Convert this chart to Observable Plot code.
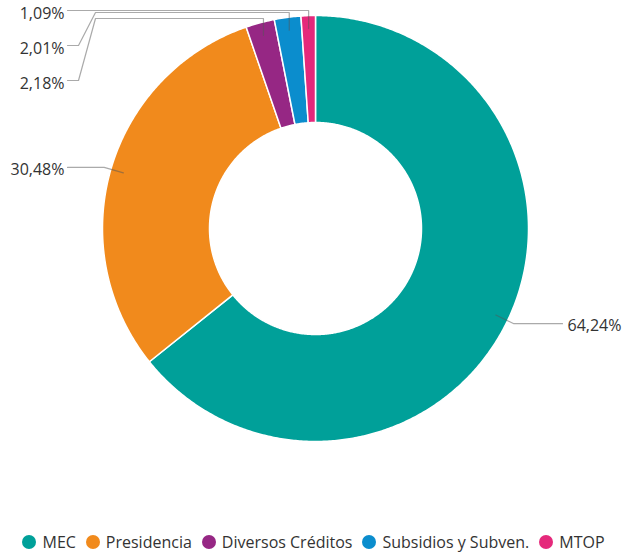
<!DOCTYPE html>
<html>
<head>
<meta charset="utf-8">
<script src="https://cdn.jsdelivr.net/npm/d3@7"></script>
<script src="https://cdn.jsdelivr.net/npm/@observablehq/plot@0.6"></script>
<style>
  html, body { margin: 0; padding: 0; background: #fff; }
  #chart { width: 623px; height: 520px; }
  .legend { display: flex; justify-content: center; align-items: center; gap: 10px;
    font-family: "Open Sans", "Noto Sans", sans-serif; font-size: 16px; color: #333;
    height: 44px; width: 623px; padding-left: 4px; box-sizing: border-box; }
  .legend span.item { display: inline-flex; align-items: center; gap: 6px; }
  .legend span.sw { width: 14px; height: 14px; border-radius: 50%; display: inline-block; }
</style>
</head>
<body>
<div id="chart"></div>
<script>
// ---- data ----
const categories = ["MEC", "Presidencia", "Diversos Créditos", "Subsidios y Subven.", "MTOP"];
const values = [64.24, 30.48, 2.18, 2.01, 1.09];
const valueLabels = ["64,24%", "30,48%", "2,18%", "2,01%", "1,09%"];
const colors = ["#00a099", "#f18a1c", "#962784", "#0b8dcd", "#e5297b"];

// ---- layout ----
const W = 623, H = 520;
const cx = 315, cy = 228, R = 213, r0 = 106;
const total = d3.sum(values);
const pt = (a, rad) => [cx + rad * Math.sin(a), cy - rad * Math.cos(a)];

let acc = 0;
const slices = categories.map((name, i) => {
  const a0 = acc / total * 2 * Math.PI;
  acc += values[i];
  const a1 = acc / total * 2 * Math.PI;
  return {name, value: values[i], label: valueLabels[i], a0, a1, mid: (a0 + a1) / 2};
});

// polygons for slices
const arcPts = [];
for (const s of slices) {
  const n = Math.max(4, Math.ceil((s.a1 - s.a0) / (Math.PI / 360)));
  const ring = [];
  for (let k = 0; k <= n; k++) ring.push(pt(s.a0 + (s.a1 - s.a0) * k / n, R));
  for (let k = n; k >= 0; k--) ring.push(pt(s.a0 + (s.a1 - s.a0) * k / n, r0));
  ring.push(ring[0]);
  ring.forEach(([x, y]) => arcPts.push({name: s.name, x, y}));
}

// leader lines and labels
const lines = [];
const textsLeft = [];
const textsRight = [];
const small = slices.filter(s => s.value < 5).sort((a, b) => b.mid - a.mid);
const stackTop = [10, 12, 18];
slices.forEach(s => {
  const anchor = pt(s.mid, 200);
  if (s.value >= 5) {
    const elbow = pt(s.mid, 220);
    const right = Math.sin(s.mid) > 0;
    const endX = right ? cx + 247 : cx - 248;
    [anchor, elbow, [endX, elbow[1]]].forEach(([x, y]) => lines.push({name: s.name, x, y}));
    (right ? textsRight : textsLeft).push({label: s.label, x: right ? endX + 5 : endX - 3, y: elbow[1] + 2});
  } else {
    const i = small.indexOf(s);
    const topY = stackTop[i];
    const labY = 10 + 35 * i;
    const endX = 67;
    const pts = [anchor, [anchor[0], topY], [95, topY], [78, labY], [endX, labY]];
    pts.forEach(([x, y]) => lines.push({name: s.name, x, y}));
    textsLeft.push({label: s.label, x: endX - 3, y: labY + 3});
  }
});

const plot = Plot.plot({
  width: W, height: H,
  margin: 0,
  x: {domain: [0, W], range: [0, W], axis: null},
  y: {domain: [0, H], range: [0, H], axis: null},
  color: {domain: categories, range: colors},
  style: {fontFamily: "'Open Sans', 'Noto Sans', sans-serif", background: "#fff"},
  marks: [
    Plot.line(arcPts, {x: "x", y: "y", z: "name", fill: "name", stroke: "white", strokeWidth: 1.5, curve: "linear"}),
    Plot.line(lines, {x: "x", y: "y", z: "name", stroke: "#555", strokeOpacity: 0.5, strokeWidth: 1.2}),
    Plot.text(textsLeft, {x: "x", y: "y", text: "label", textAnchor: "end", fontSize: 16, fill: "#333", lineAnchor: "middle"}),
    Plot.text(textsRight, {x: "x", y: "y", text: "label", textAnchor: "start", fontSize: 16, fill: "#333", lineAnchor: "middle"})
  ]
});
document.getElementById("chart").appendChild(plot);

// legend
const leg = document.createElement("div");
leg.className = "legend";
categories.forEach((c, i) => {
  const it = document.createElement("span");
  it.className = "item";
  const sw = document.createElement("span");
  sw.className = "sw";
  sw.style.background = colors[i];
  it.appendChild(sw);
  it.appendChild(document.createTextNode(c));
  leg.appendChild(it);
});
document.body.appendChild(leg);
</script>
</body>
</html>
